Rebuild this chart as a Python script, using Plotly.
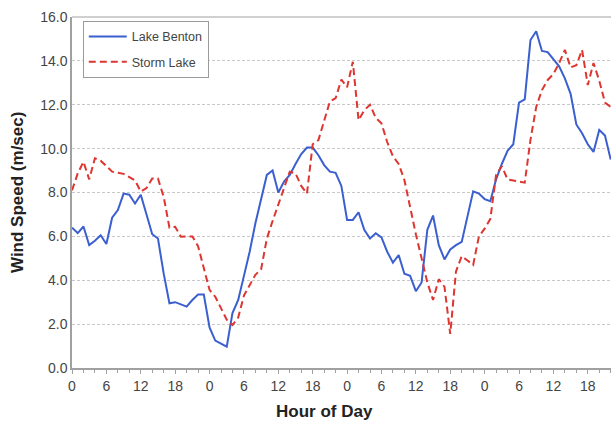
import plotly.graph_objects as go

hours = list(range(0, 95))

lake_benton = [
    6.4, 6.15, 6.45, 5.6, 5.8, 6.05, 5.65, 6.85, 7.2, 7.95,
    7.9, 7.5, 7.9, 7.05, 6.1, 5.9, 4.3, 2.95, 3.0, 2.9,
    2.8, 3.1, 3.35, 3.35, 1.85, 1.25, 1.1, 0.97, 2.5, 3.1,
    4.2, 5.3, 6.6, 7.7, 8.8, 9.0, 8.0, 8.5, 8.8, 9.3,
    9.75, 10.05, 10.05, 9.7, 9.25, 8.95, 8.9, 8.3, 6.75, 6.75,
    7.1, 6.3, 5.9, 6.14, 5.95, 5.3, 4.8, 5.15, 4.3, 4.2,
    3.5, 3.9, 6.3, 6.95, 5.6, 4.95, 5.4, 5.6, 5.75, 6.9,
    8.05, 7.95, 7.7, 7.6, 8.6, 9.3, 9.9, 10.2, 12.1, 12.25,
    14.95, 15.35, 14.45, 14.4, 14.1, 13.75, 13.2, 12.5, 11.1, 10.7,
    10.2, 9.85, 10.85, 10.6, 9.5,
]

storm_lake = [
    8.1, 8.87, 9.4, 8.6, 9.56, 9.45, 9.2, 8.95, 8.9, 8.85,
    8.7, 8.55, 8.04, 8.2, 8.64, 8.64, 7.8, 6.4, 6.44, 5.98,
    6.0, 6.0, 5.55, 4.6, 3.56, 3.25, 2.75, 2.2, 1.96, 2.3,
    3.3, 3.8, 4.25, 4.5, 5.9, 6.7, 7.45, 8.3, 8.95, 8.87,
    8.3, 7.95, 10.2, 10.39, 11.3, 12.15, 12.3, 13.15, 12.8, 13.96,
    11.3, 11.75, 12.0, 11.4, 11.15, 10.3, 9.65, 9.3, 8.57, 7.3,
    6.1, 5.0, 3.9, 3.1, 4.05, 3.7, 1.55, 4.4, 5.1, 4.9,
    4.7, 6.0, 6.35, 6.8, 8.8, 9.2, 8.6, 8.55, 8.5, 8.45,
    10.4, 11.9, 12.67, 13.13, 13.4, 13.9, 14.5, 13.7, 13.8, 14.5,
    12.9, 13.9, 13.1, 12.1, 11.9,
]

tick_vals = list(range(0, 96, 6))
tick_text = ["0", "6", "12", "18"] * 4
y_ticks = [0, 2, 4, 6, 8, 10, 12, 14, 16]

fig = go.Figure()
fig.add_trace(go.Scatter(
    x=hours, y=lake_benton, mode="lines", name="Lake Benton",
    line=dict(color="#3c5fd0", width=2), legendgroup="a",
))
fig.add_trace(go.Scatter(
    x=hours, y=storm_lake, mode="lines", name="Storm Lake",
    line=dict(color="#dd3530", width=2, dash="7px,4px"), legendgroup="b",
))

fig.update_layout(
    width=611, height=425,
    margin=dict(l=72, r=0, t=17, b=57),
    paper_bgcolor="white", plot_bgcolor="white",
    font=dict(family="Liberation Sans, Arial, sans-serif", size=14, color="#333333"),
    showlegend=True,
    legend=dict(
        x=0.02, y=0.989, xanchor="left", yanchor="top",
        bgcolor="white", bordercolor="#9a9a9a", borderwidth=1,
        font=dict(size=12.5, color="#444444"),
        tracegroupgap=6, traceorder="grouped",
        itemwidth=38,
    ),
    xaxis=dict(
        range=[0, 94.05],
        tickvals=tick_vals, ticktext=tick_text,
        ticks="outside", ticklen=4, tickcolor="#a0a0a0",
        minor=dict(dtick=2, tick0=0, ticks="outside", ticklen=3, tickcolor="#a0a0a0", showgrid=False),
        showline=True, linecolor="#a0a0a0", linewidth=1.5,
        showgrid=False, zeroline=False,
        tickfont=dict(size=14, color="#444444"),
    ),
    yaxis=dict(
        range=[0, 16],
        tickvals=y_ticks, tickformat=".1f",
        showline=True, linecolor="#a0a0a0", linewidth=1.5,
        ticks="", showgrid=True, gridcolor="#c8c8c8", gridwidth=1, griddash="3px,2px",
        zeroline=False,
        tickfont=dict(size=14, color="#444444"),
    ),
)

fig.add_shape(type="line", xref="paper", yref="paper", x0=0, x1=1, y0=1, y1=1,
              line=dict(color="#a0a0a0", width=1))

fig.add_annotation(text="<b>Hour of Day</b>", xref="paper", yref="paper",
                   x=(324.5 - 72) / 539, y=-0.125, xanchor="center", yanchor="middle",
                   showarrow=False, font=dict(size=17, color="#222222"))
fig.add_annotation(text="<b>Wind Speed (m/sec)</b>", xref="paper", yref="paper",
                   x=-(72 - 17.5) / 539, y=0.5, xanchor="center", yanchor="middle",
                   textangle=-90, showarrow=False, font=dict(size=17, color="#222222"))

fig.write_html("out.html")
